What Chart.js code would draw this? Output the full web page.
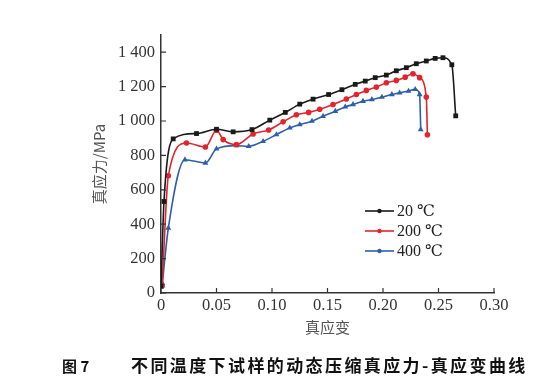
<!DOCTYPE html>
<html lang="zh">
<head>
<meta charset="UTF-8">
<title>不同温度下试样的动态压缩真应力-真应变曲线</title>
<style>
  html, body { margin: 0; padding: 0; background: #fff; }
  canvas { display: block; }
</style>
</head>
<body>
<canvas id="curveCanvas" width="560" height="392"></canvas>
<script src="https://cdn.jsdelivr.net/npm/chart.js"></script>
<script>
// values
var strain20 = [0, 0.0027, 0.011, 0.032, 0.050, 0.065, 0.082, 0.098, 0.112, 0.125, 0.137, 0.151, 0.163, 0.175, 0.184, 0.193, 0.203, 0.212, 0.221, 0.230, 0.239, 0.247, 0.254, 0.262, 0.2655];
var stress20 = [40, 532, 896, 927, 952, 937, 950, 1005, 1050, 1098, 1127, 1154, 1182, 1213, 1232, 1252, 1267, 1292, 1310, 1333, 1349, 1364, 1368, 1327, 1030];

var strain200 = [0.001, 0.0066, 0.023, 0.040, 0.050, 0.056, 0.068, 0.083, 0.097, 0.110, 0.122, 0.133, 0.143, 0.155, 0.167, 0.176, 0.185, 0.194, 0.203, 0.212, 0.220, 0.227, 0.233, 0.239, 0.240];
var stress200 = [40, 682, 872, 849, 946, 892, 863, 925, 948, 995, 1036, 1050, 1068, 1096, 1128, 1154, 1178, 1197, 1222, 1236, 1255, 1275, 1252, 1139, 920];

var strain400 = [0.0012, 0.0066, 0.0216, 0.040, 0.050, 0.068, 0.079, 0.092, 0.104, 0.116, 0.125, 0.136, 0.146, 0.157, 0.166, 0.173, 0.182, 0.190, 0.199, 0.208, 0.215, 0.223, 0.229, 0.233, 0.234];
var stress400 = [57, 377, 775, 756, 838, 857, 853, 882, 921, 960, 979, 999, 1028, 1057, 1082, 1096, 1115, 1125, 1139, 1154, 1164, 1174, 1184, 1154, 950];

var seriesLabels = ['20 ℃', '200 ℃', '400 ℃'];
var xTicks = [0, 0.05, 0.10, 0.15, 0.20, 0.25, 0.30];
var xTickLabels = ['0', '0.05', '0.10', '0.15', '0.20', '0.25', '0.30'];
var yTicks = [0, 200, 400, 600, 800, 1000, 1200, 1400];
var yTickLabels = ['0', '200', '400', '600', '800', '1 000', '1 200', '1 400'];

var serif = '"Liberation Serif", "DejaVu Serif", serif';
var cjk = '"Noto Sans CJK SC", sans-serif';
var axisColor = '#333';

function pairs(xs, ys) {
    return xs.map(function(x, i) { return {x: x, y: ys[i]}; });
}

// ticks point into the plot, so draw them by hand from the scales
var innerTicks = {
    id: 'innerTicks',
    afterDraw: function(chart) {
        var ctx = chart.ctx, xs = chart.scales.x, ys = chart.scales.y;
        ctx.save();
        ctx.strokeStyle = axisColor;
        ctx.lineWidth = 1.2;
        ctx.beginPath();
        xTicks.forEach(function(v) {
            var px = xs.getPixelForValue(v);
            ctx.moveTo(px, ys.bottom);
            ctx.lineTo(px, ys.bottom - 5);
        });
        yTicks.forEach(function(v) {
            var py = ys.getPixelForValue(v);
            ctx.moveTo(xs.left, py);
            ctx.lineTo(xs.left + 5, py);
        });
        ctx.stroke();
        ctx.restore();
    }
};

// legend with line + marker, plus the figure caption
var legendAndCaption = {
    id: 'legendAndCaption',
    afterDraw: function(chart) {
        var ctx = chart.ctx;
        ctx.save();
        chart.data.datasets.forEach(function(ds, i) {
            var y = 211 + i * 20;
            ctx.strokeStyle = ds.borderColor;
            ctx.lineWidth = 1.6;
            ctx.beginPath();
            ctx.moveTo(365, y);
            ctx.lineTo(394, y);
            ctx.stroke();
            ctx.fillStyle = ds.borderColor;
            ctx.beginPath();
            ctx.arc(379.5, y, 2.2, 0, Math.PI * 2);
            ctx.fill();
            ctx.fillStyle = '#222';
            ctx.font = '16px ' + serif;
            ctx.textBaseline = 'middle';
            ctx.textAlign = 'left';
            ctx.fillText(ds.label, 397, y + 1);
        });
        ctx.fillStyle = '#111';
        ctx.textBaseline = 'middle';
        ctx.font = 'bold 15px ' + cjk;
        ctx.fillText('图 7', 62, 366);
        ctx.font = 'bold 17px ' + cjk;
        ctx.letterSpacing = '2.4px';
        ctx.fillText('不同温度下试样的动态压缩真应力-真应变曲线', 131, 366);
        ctx.restore();
    }
};

var ctx = document.getElementById('curveCanvas').getContext('2d');
var curveChart = new Chart(ctx, {
    type: 'line',
    data: {
        datasets: [{
            label: seriesLabels[0],
            data: pairs(strain20, stress20),
            borderColor: '#1a1a1a',
            backgroundColor: '#1a1a1a',
            pointStyle: 'rect',
            pointRadius: 3.4
        }, {
            label: seriesLabels[1],
            data: pairs(strain200, stress200),
            borderColor: '#e2252d',
            backgroundColor: '#e2252d',
            pointStyle: 'circle',
            pointRadius: 2.8
        }, {
            label: seriesLabels[2],
            data: pairs(strain400, stress400),
            borderColor: '#2b5fae',
            backgroundColor: '#2b5fae',
            pointStyle: 'triangle',
            pointRadius: 3.4
        }]
    },
    options: {
        responsive: false,
        animation: false,
        layout: { padding: { top: 35, right: 66, left: 0, bottom: 0 } },
        elements: {
            line: { borderWidth: 1.6, cubicInterpolationMode: 'monotone', fill: false },
            point: { borderWidth: 0, hoverRadius: 3 }
        },
        plugins: {
            legend: { display: false },
            tooltip: { enabled: false }
        },
        scales: {
            x: {
                type: 'linear',
                min: 0,
                max: 0.30,
                afterFit: function(s) { s.height = 99; },
                afterBuildTicks: function(s) { s.ticks = xTicks.map(function(v) { return {value: v}; }); },
                grid: { display: true, drawOnChartArea: false, drawTicks: false },
                border: { display: true, color: axisColor, width: 1.5 },
                ticks: {
                    padding: 3,
                    color: '#333',
                    font: { family: serif, size: 16.5 },
                    maxRotation: 0,
                    autoSkip: false,
                    callback: function(v) { return xTickLabels[xTicks.indexOf(v)]; }
                },
                title: {
                    display: true,
                    text: '真应变',
                    color: '#555',
                    font: { family: cjk, size: 15 },
                    padding: { top: 0, bottom: 56 }
                }
            },
            y: {
                type: 'linear',
                min: 0,
                max: 1500,
                afterFit: function(s) { s.width = 161; },
                afterBuildTicks: function(s) { s.ticks = yTicks.map(function(v) { return {value: v}; }); },
                grid: { display: true, drawOnChartArea: false, drawTicks: false },
                border: { display: true, color: axisColor, width: 1.5 },
                ticks: {
                    padding: 6,
                    color: '#333',
                    font: { family: serif, size: 16.5 },
                    autoSkip: false,
                    callback: function(v) { return yTickLabels[yTicks.indexOf(v)]; }
                },
                title: {
                    display: true,
                    text: '真应力/MPa',
                    color: '#555',
                    font: { family: cjk, size: 15 },
                    padding: { top: 90, bottom: 0 }
                }
            }
        }
    },
    plugins: [innerTicks, legendAndCaption]
});
</script>
</body>
</html>
